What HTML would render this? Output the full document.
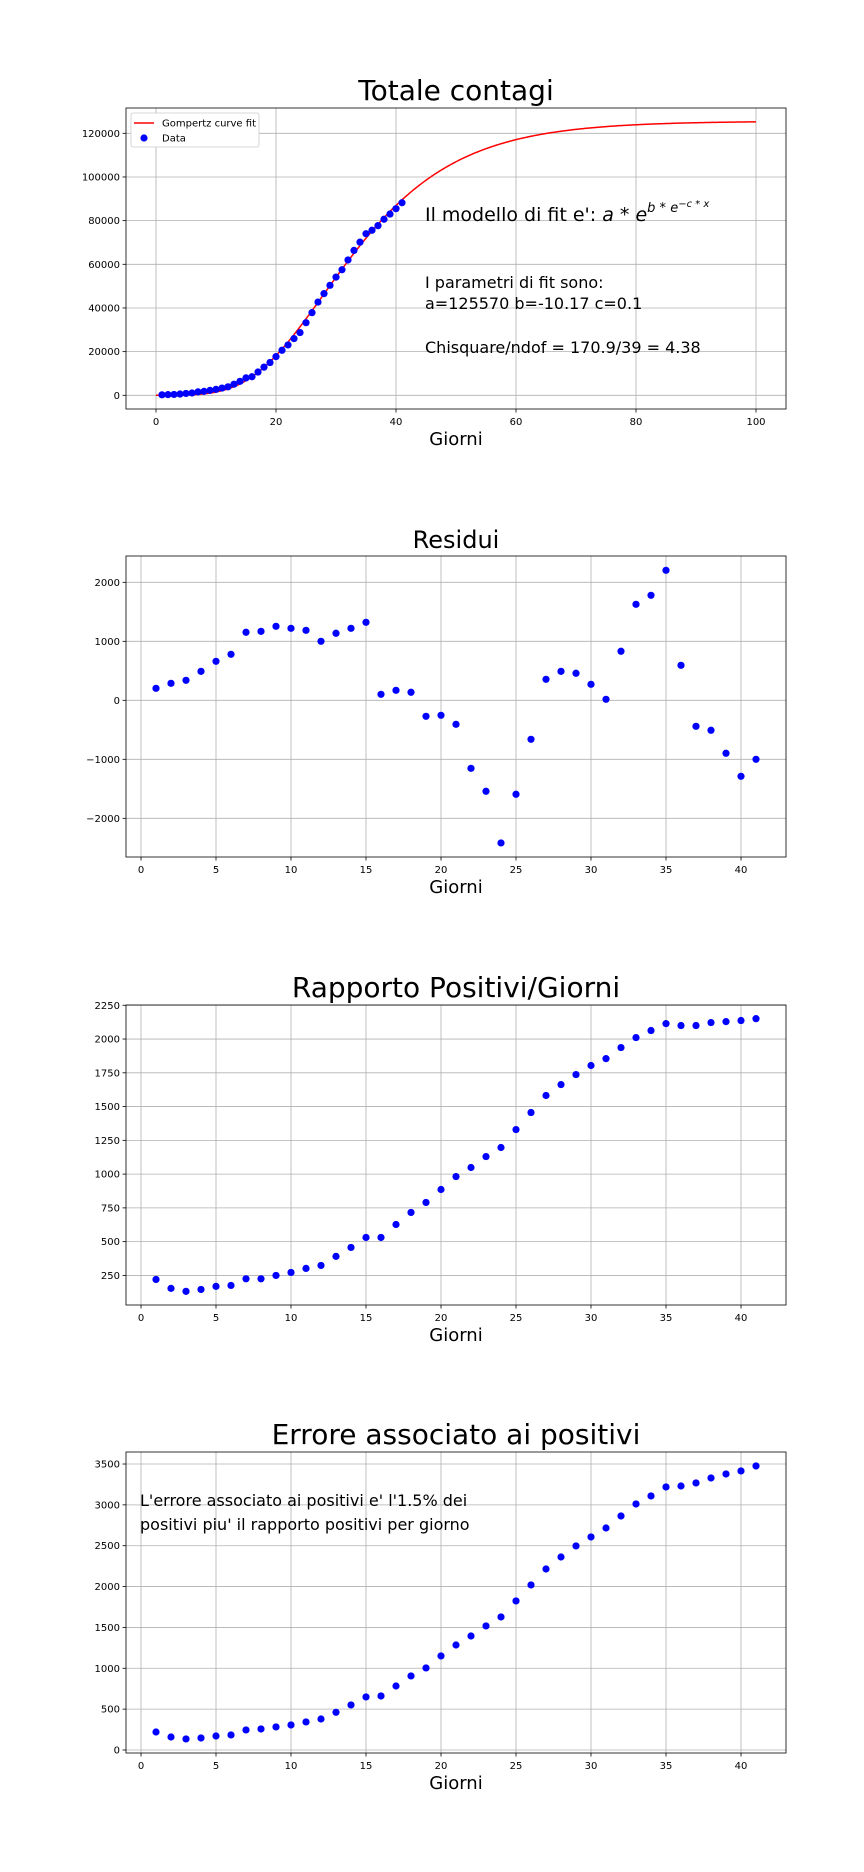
<!DOCTYPE html>
<html><head><meta charset="utf-8"><style>
body{margin:0;background:#fff;}
svg{display:block;font-family:"DejaVu Sans","Liberation Sans",sans-serif;}
</style></head><body>
<svg id="fig" width="864" height="1872" viewBox="0 0 864 1872"></svg>
<script>
const days = [1,2,3,4,5,6,7,8,9,10,11,12,13,14,15,16,17,18,19,20,21,22,23,24,25,26,27,28,29,30,31,32,33,34,35,36,37,38,39,40,41];
const totals = [220,308,396,584,845,1056,1575,1800,2250,2720,3322,3888,5083,6398,7965,8496,10659,12888,15010,17720,20622,23078,25990,28728,33250,37856,42714,46564,50373,54120,57505,61984,66363,70142,73990,75600,77700,80636,83031,85480,88191];
const residuals = [203,288,339,491,661,780,1153,1169,1254,1220,1186,1000,1136,1220,1322,102,169,136,-271,-254,-407,-1153,-1542,-2418,-1593,-661,356,491,458,271,17,831,1627,1780,2203,593,-441,-508,-898,-1288,-1000];
const ratios = [220,154,132,146,169,176,225,225,250,272,302,324,391,457,531,531,627,716,790,886,982,1049,1130,1197,1330,1456,1582,1663,1737,1804,1855,1937,2011,2063,2114,2100,2100,2122,2129,2137,2151];
const errors = [220,159,135,147,171,184,245,257,282,306,343,379,461,551,649,661,783,906,1004,1151,1285,1395,1518,1628,1824,2020,2215,2362,2497,2607,2717,2864,3011,3109,3219,3231,3268,3329,3378,3415,3476];
const fitA = 125570, fitB = -10.17, fitC = 0.083;
const ticks1x = [0,20,40,60,80,100];
const ticks1y = [0,20000,40000,60000,80000,100000,120000];
const ticksDx = [0,5,10,15,20,25,30,35,40];
const ticks2y = [-2000,-1000,0,1000,2000];
const ticks3y = [250,500,750,1000,1250,1500,1750,2000,2250];
const ticks4y = [0,500,1000,1500,2000,2500,3000,3500];

const NS="http://www.w3.org/2000/svg";
const svg=document.getElementById('fig');
function mk(tag,attrs,parent){const e=document.createElementNS(NS,tag);for(const k in attrs)e.setAttribute(k,attrs[k]);(parent||svg).appendChild(e);return e;}
function txt(s,attrs,parent){const e=mk('text',attrs,parent);e.textContent=s;return e;}

function axes(name,top,bottom,xmin,xmax,ymin,ymax,xt,yt,title,titleSize){
  const L=126,R=786;
  const g=mk('g',{});
  
  
  const sx=v=>L+(v-xmin)/(xmax-xmin)*(R-L);
  const sy=v=>bottom-(v-ymin)/(ymax-ymin)*(bottom-top);
  xt.forEach(t=>{const x=sx(t);
    const gl=mk('line',{x1:x,x2:x,y1:top,y2:bottom,stroke:'#b0b0b0','stroke-width':0.8},g);
    
    mk('line',{x1:x,x2:x,y1:bottom,y2:bottom+3.5,stroke:'#000','stroke-width':0.8},g);
    const tl=txt(String(t),{x:x,y:bottom+16,'font-size':10,'text-anchor':'middle'},g);
    
  });
  yt.forEach(t=>{const y=sy(t);
    const gl=mk('line',{x1:L,x2:R,y1:y,y2:y,stroke:'#b0b0b0','stroke-width':0.8},g);
    
    mk('line',{x1:L-3.5,x2:L,y1:y,y2:y,stroke:'#000','stroke-width':0.8},g);
    const s=t<0?'\u2212'+Math.abs(t):String(t);
    const tl=txt(s,{x:L-6,y:y+3.5,'font-size':10,'text-anchor':'end'},g);
    
  });
  const fr=mk('rect',{x:L,y:top,width:R-L,height:bottom-top,fill:'none',stroke:'#000','stroke-width':0.8},g);
  
  const ti=txt(title,{x:(L+R)/2,y:top-8,'font-size':titleSize,'text-anchor':'middle'},g);
  
  const xl=txt('Giorni',{x:(L+R)/2,y:bottom+36,'font-size':18,'text-anchor':'middle'},g);
  
  return {g,sx,sy};
}
function dots(ax,xs,ys,name){
  xs.forEach((d,i)=>{const c=mk('circle',{cx:ax.sx(d),cy:ax.sy(ys[i]),r:3.6,fill:'#0000ff'},ax.g);
    });
}

// Plot 1
const a1=axes('totale-contagi-chart',108,409,-5,105,-6275,131590,ticks1x,ticks1y,'Totale contagi',28);
let pts=[];for(let k=0;k<=400;k++){const x=k*100/400;pts.push(a1.sx(x)+','+a1.sy(fitA*Math.exp(fitB*Math.exp(-fitC*x))));}
const fl=mk('polyline',{points:pts.join(' '),fill:'none',stroke:'#ff0000','stroke-width':1.5},a1.g);

dots(a1,days,totals,'data-point');
const lg=mk('g',{},a1.g);

mk('rect',{x:131,y:113,width:128,height:34,rx:2,fill:'#fff',stroke:'#ccc','stroke-width':0.8},lg);
mk('line',{x1:134,x2:154,y1:123,y2:123,stroke:'#ff0000','stroke-width':1.5},lg);
txt('Gompertz curve fit',{x:162,y:126.5,'font-size':10},lg);
mk('circle',{cx:144,cy:138,r:3.6,fill:'#0000ff'},lg);
txt('Data',{x:162,y:141.5,'font-size':10},lg);
const m1=txt('',{x:425,y:221,'font-size':19},a1.g);

m1.innerHTML="Il modello di fit e': <tspan font-style='italic'>a</tspan> * <tspan font-style='italic'>e</tspan><tspan font-size='13' dy='-9' font-style='italic'>b * e</tspan><tspan font-size='10' dy='-5' font-style='italic'>−c * x</tspan>";
const p1=txt('I parametri di fit sono:',{x:425,y:288,'font-size':16},a1.g);

const p2=txt('a=125570 b=-10.17 c=0.1',{x:425,y:309,'font-size':16},a1.g);

const p3=txt('Chisquare/ndof = 170.9/39 = 4.38',{x:425,y:353,'font-size':16},a1.g);


// Plot 2
const a2=axes('residui-chart',556,857,-1,43,-2656,2446,ticksDx,ticks2y,'Residui',24);
dots(a2,days,residuals,'residual-point');

// Plot 3
const a3=axes('rapporto-chart',1005,1305,-1,43,31,2252,ticksDx,ticks3y,'Rapporto Positivi/Giorni',28);
dots(a3,days,ratios,'ratio-point');

// Plot 4
const a4=axes('errore-chart',1452,1753,-1,43,-37,3647,ticksDx,ticks4y,'Errore associato ai positivi',28);
dots(a4,days,errors,'error-point');
const e1=txt("L'errore associato ai positivi e' l'1.5% dei",{x:140,y:1506,'font-size':16},a4.g);

const e2=txt("positivi piu' il rapporto positivi per giorno",{x:140,y:1530,'font-size':16},a4.g);

</script>
</body></html>
